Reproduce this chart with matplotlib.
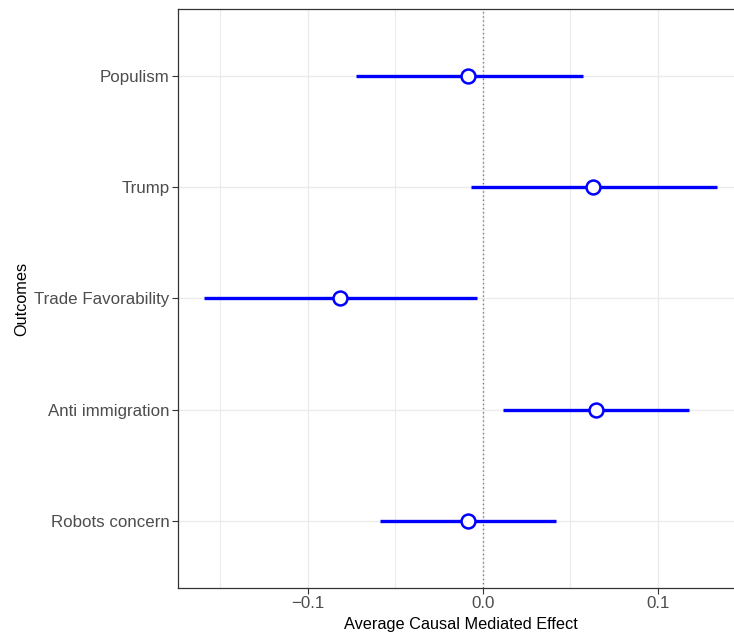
"""
Coefficient plot: average causal mediated effect per outcome, with intervals.
"""
import matplotlib
matplotlib.use("Agg")
import matplotlib.pyplot as plt
from matplotlib.ticker import MultipleLocator

plt.rcParams["font.family"] = ["Liberation Sans", "DejaVu Sans"]

outcomes = ["Populism", "Trump", "Trade Favorability", "Anti immigration", "Robots concern"]
acme = [-0.0083, 0.0629, -0.0815, 0.0649, -0.0083]
ci_lo = [-0.0722, -0.0070, -0.1594, 0.0114, -0.0587]
ci_hi = [0.0570, 0.1339, -0.0033, 0.1179, 0.0417]

W, H = 734, 632
fig = plt.figure(figsize=(W / 100, H / 100), dpi=100)

# panel extends slightly past the right edge (as in the reference crop)
ax = fig.add_axes([178 / W, 44 / H, 565 / W, 579 / H])

n = len(outcomes)
ypos = [n - 1 - i for i in range(n)]

ax.axvline(0, color="#7f7f7f", linewidth=1.0, linestyle=(0, (1, 2)), zorder=2)
for y, m, lo, hi in zip(ypos, acme, ci_lo, ci_hi):
    ax.plot([lo, hi], [y, y], color="#0000ff", linewidth=2.4, solid_capstyle="butt", zorder=3)
ax.plot(acme, ypos, linestyle="none", marker="o", markersize=10,
        markerfacecolor="white", markeredgecolor="#0000ff", markeredgewidth=1.8, zorder=4)

span = max(ci_hi) - min(ci_lo)
ax.set_xlim(min(ci_lo) - 0.05 * span, max(ci_hi) + 0.05 * span)
ax.set_ylim(-0.6, n - 1 + 0.6)

ax.set_yticks(ypos)
ax.set_yticklabels(outcomes)
ax.xaxis.set_major_locator(MultipleLocator(0.1))
ax.xaxis.set_minor_locator(MultipleLocator(0.05))
ax.set_xticks([-0.1, 0.0, 0.1])
ax.set_xticklabels(["\u22120.1", "0.0", "0.1"])

ax.grid(True, which="major", color="#ebebeb", linewidth=1.0, zorder=0)
ax.grid(True, which="minor", axis="x", color="#ebebeb", linewidth=0.8, zorder=0)
ax.set_axisbelow(True)

ax.tick_params(axis="both", which="major", labelsize=12.2, labelcolor="#4d4d4d",
               color="#333333", length=4, width=0.8, pad=2)
ax.tick_params(axis="both", which="minor", length=0)
for sp in ax.spines.values():
    sp.set_color("#333333")
    sp.set_linewidth(0.9)
ax.spines["right"].set_visible(False)

ax.set_xlabel("Average Causal Mediated Effect", fontsize=11.7, color="black", labelpad=4)
ax.set_ylabel("Outcomes", fontsize=11.7, color="black", labelpad=4)

fig.savefig("out.png", dpi=100)
